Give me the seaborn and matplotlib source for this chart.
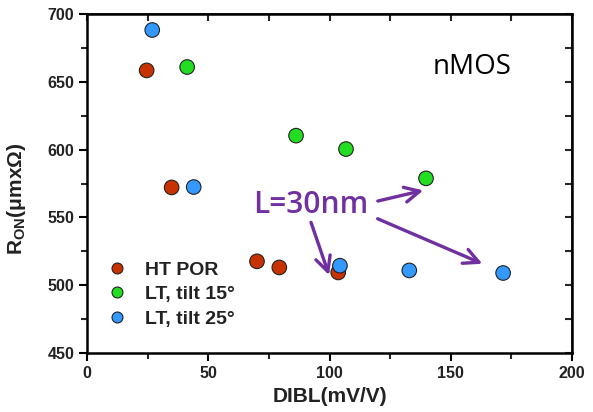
import matplotlib
matplotlib.use("Agg")
import matplotlib.pyplot as plt
import seaborn as sns
import pandas as pd
from matplotlib.ticker import MultipleLocator

sns.set_theme(style="ticks")
plt.rcParams['font.family'] = ['Liberation Sans', 'DejaVu Sans']
plt.rcParams['mathtext.default'] = 'regular'

series_names = ["HT POR", "LT, tilt 15°", "LT, tilt 25°"]
ht_dibl = [24.6, 34.9, 70.1, 79.3, 103.6]
ht_ron = [658.4, 572.1, 517.6, 513.1, 509.4]
lt15_dibl = [41.3, 86.2, 106.8, 139.8]
lt15_ron = [660.9, 610.3, 600.4, 578.8]
lt25_dibl = [26.9, 44.0, 104.3, 132.9, 171.6]
lt25_ron = [688.2, 572.4, 514.4, 510.9, 509.0]

colors = ["#C83200", "#22DD22", "#3399FF"]

df = pd.DataFrame({
    "DIBL": ht_dibl + lt15_dibl + lt25_dibl,
    "RON": ht_ron + lt15_ron + lt25_ron,
    "series": [series_names[0]] * len(ht_dibl) + [series_names[1]] * len(lt15_dibl)
              + [series_names[2]] * len(lt25_dibl),
})

fig = plt.figure(figsize=(5.93, 4.12), dpi=100)
ax = fig.add_axes([87 / 593, 1 - 353 / 412, (572 - 87) / 593, (353 - 14) / 412])

sns.scatterplot(data=df, x="DIBL", y="RON", hue="series", hue_order=series_names,
                palette=colors, s=110, edgecolor="#222222", linewidth=0.8, ax=ax, zorder=3)

ax.set_xlim(0, 200)
ax.set_ylim(450, 700)
ax.xaxis.set_major_locator(MultipleLocator(50))
ax.xaxis.set_minor_locator(MultipleLocator(25))
ax.yaxis.set_major_locator(MultipleLocator(50))
ax.yaxis.set_minor_locator(MultipleLocator(25))
ax.tick_params(which="major", direction="out", length=6, width=1.5,
               labelsize=11.5, pad=3, colors="black")
ax.tick_params(which="minor", direction="out", length=4, width=1.5)
for lab in ax.get_xticklabels() + ax.get_yticklabels():
    lab.set_fontweight("bold")
    lab.set_color("#222222")
for sp in ax.spines.values():
    sp.set_linewidth(1.8)
    sp.set_color("black")

# inward ticks on top and right
axt = ax.secondary_xaxis("top")
axt.xaxis.set_major_locator(MultipleLocator(25))
axt.tick_params(direction="in", length=5, width=1.5, labeltop=False)
axr = ax.secondary_yaxis("right")
axr.yaxis.set_major_locator(MultipleLocator(25))
axr.tick_params(direction="in", length=5, width=1.5, labelright=False)

ax.set_xlabel("DIBL(mV/V)", fontsize=15, fontweight="bold", color="#222222", labelpad=5)
ax.set_ylabel(r"R$_{ON}$(μmxΩ)", fontsize=15, fontweight="bold", color="#222222")
ax.yaxis.set_label_coords(-0.122, 0.456)

leg = ax.legend(loc="lower left", bbox_to_anchor=(-0.014, 0.023), frameon=False,
                markerscale=0.75, handletextpad=0.45, labelspacing=0.35,
                prop={"weight": "bold", "size": 14})
for t in leg.get_texts():
    t.set_color("#222222")

purple = "#7030A0"
ax.text(158.8, 661, "nMOS", fontsize=20, family=["Open Sans", "DejaVu Sans"],
        ha="center", va="center", color="black")
ax.text(92.2, 559.5, "L=30nm", fontsize=21.5, family=["Open Sans", "DejaVu Sans"],
        fontweight="semibold", ha="center", va="center", color=purple)
arrow_kw = dict(arrowstyle="->,head_length=0.9,head_width=0.45", color=purple, lw=2.4)
ax.annotate("", xy=(100.2, 505.5), xytext=(92, 548.3), arrowprops=arrow_kw)
ax.annotate("", xy=(139.8, 570.4), xytext=(118.8, 561.6), arrowprops=arrow_kw)
ax.annotate("", xy=(164.1, 515.0), xytext=(118.8, 549.8), arrowprops=arrow_kw)

fig.savefig("out.png", dpi=100)
